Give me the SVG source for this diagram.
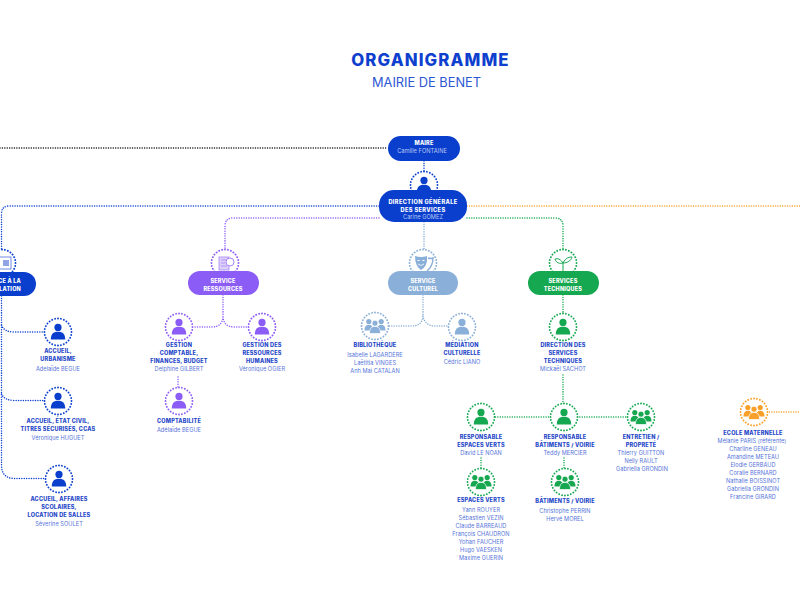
<svg xmlns="http://www.w3.org/2000/svg" width="800" height="600" viewBox="0 0 800 600">
<style>
text{font-family:"Inter","Liberation Sans",sans-serif;text-anchor:middle}
.t{font-size:5.5px;font-weight:800;fill:#1f47c8;letter-spacing:.2px}
.n{font-size:5.6px;font-weight:400;fill:#5473da;letter-spacing:.05px}
.w{font-size:5.5px;font-weight:800;fill:#fff;letter-spacing:.2px}
.wd{font-size:5.6px;font-weight:800;fill:#fff;letter-spacing:.4px}
.wn{font-size:5.7px;font-weight:400;fill:#b9c8f2}
.c{fill:none;stroke-width:1.5;stroke-dasharray:.01 2.4;stroke-linecap:round}
.ring{fill:#fff;stroke-width:1.9;stroke-dasharray:.01 3;stroke-linecap:round}
.blue{stroke:#0a3fce;color:#0a3fce}.pur{stroke:#8b5cf6;color:#8b5cf6}.lb{stroke:#8aafd8;color:#8aafd8}.gr{stroke:#16a850;color:#16a850}.or{stroke:#f9a02a;color:#f9a02a}.bk{stroke:#111}
.ic{stroke:none;fill:currentColor}
</style>
<defs>
<g id="person"><circle cx="0" cy="-4.600" r="3.600"/><path d="M-7.200 7.500C-7.200 2-4.800-.3 0-.3S7.200 2 7.200 7.500Z"/></g>
<g id="group"><circle cx="-6.200" cy="-4.500" r="2.600"/><circle cx="6.200" cy="-4.500" r="2.600"/><path d="M-10.500 4.500C-10.500 0-8.500-1.300-6.200-1.300S-2 0-2 4.500Z"/><path d="M10.500 4.500C10.500 0 8.500-1.300 6.200-1.300S2 0 2 4.500Z"/><circle cx="0" cy="-2.800" r="3" stroke="#fff" stroke-width=".7"/><path d="M-5.500 7.500C-5.500 2-3 .4 0 .4S5.500 2 5.500 7.500Z" stroke="#fff" stroke-width=".7"/></g>
</defs>
<g id="title"><text x="430.500" y="65.700" style="font-size:16.800px;font-weight:800;fill:#0f3fce;letter-spacing:1.100px">ORGANIGRAMME</text><text x="426.500" y="86.700" style="font-size:12.800px;font-weight:400;fill:#2d57d2">MAIRIE DE BENET</text></g>
<g id="connectors">
<path class="c bk" d="M0 148H388"/>
<path class="c blue" d="M424 161V172"/>
<path class="c blue" d="M379 206H9Q1.500 206 1.500 214V250"/>
<path class="c or" d="M467 206H800"/>
<path class="c pur" d="M379 218H233Q225 218 225 226V250"/>
<path class="c gr" d="M467 218H555Q563 218 563 226V250"/>
<path class="c lb" d="M424 222V250"/>
<path class="c blue" d="M1.500 296V465Q1.500 478 14 478.500H44"/>
<path class="c blue" d="M1.500 325Q4 332 14 332H44M1.500 394Q4 400 14 400.500H44"/>
<path class="c pur" d="M223 295V317Q222 327 212 327H193M223 317Q224 327 234 327H248"/>
<path class="c lb" d="M423 295V316Q422 326 412 326H389M423 316Q425 326 435 326H449"/>
<path class="c gr" d="M563 295V314"/>
<path class="c gr" d="M563 375V404M481 417H627"/>
<path class="c gr" d="M481 458V468M564 458V468"/>
<path class="c pur" d="M178 377V388"/>
<path class="c or" d="M767 412H800"/>
</g>
<g id="maire"><rect x="388" y="136" width="72" height="25" rx="12.500" fill="#0a3fce"/><text class="w" x="424" y="145">MAIRE</text><text class="wn" x="422" y="153">Camille FONTAINE</text></g>
<g id="dgs"><circle class="ring blue" cx="424" cy="185" r="13.500"/><use href="#person" x="424" y="185" class="ic blue"/><rect x="379" y="190" width="88" height="32" rx="15" fill="#0a3fce"/><text class="wd" x="423" y="204">DIRECTION GÉNÉRALE</text><text class="wd" x="423" y="212">DES SERVICES</text><text class="wn" x="423" y="219">Carine GOMEZ</text></g>
<g id="population"><circle class="ring blue" cx="2" cy="263" r="13.500"/><rect x="-3" y="257" width="14" height="12" fill="#fff" stroke="#4a6fdc" stroke-width=".8"/><rect x="3" y="260" width="6" height="6" fill="#8fa5e6"/><rect x="-40" y="272" width="76" height="24" rx="12" fill="#0a3fce"/><text class="w" x="21" y="283" style="text-anchor:end">SERVICE À LA</text><text class="w" x="21" y="291" style="text-anchor:end">POPULATION</text></g>
<g id="accueil-urbanisme"><circle class="ring blue" cx="58" cy="332" r="13.500"/><use href="#person" x="58" y="332" class="ic blue"/><text class="t" x="58" y="353">ACCUEIL,</text><text class="t" x="58" y="361">URBANISME</text><text class="n" x="58" y="371">Adelaïde BEGUE</text></g>
<g id="accueil-etat-civil"><circle class="ring blue" cx="58" cy="401" r="13.500"/><use href="#person" x="58" y="401" class="ic blue"/><text class="t" x="58" y="423">ACCUEIL, ÉTAT CIVIL,</text><text class="t" x="58" y="431">TITRES SÉCURISÉS, CCAS</text><text class="n" x="58" y="440">Véronique HUGUET</text></g>
<g id="accueil-scolaire"><circle class="ring blue" cx="59" cy="479" r="13.500"/><use href="#person" x="59" y="479" class="ic blue"/><text class="t" x="59" y="501">ACCUEIL, AFFAIRES</text><text class="t" x="59" y="509">SCOLAIRES,</text><text class="t" x="59" y="517">LOCATION DE SALLES</text><text class="n" x="59" y="526">Séverine SOULET</text></g>
<g id="service-ressources"><circle class="ring pur" cx="225" cy="263" r="13.500"/><rect x="219" y="257" width="10" height="13" fill="#ddd0fb" stroke="#a988f5" stroke-width=".8"/><circle cx="230" cy="262" r="4" fill="#fff" stroke="#a988f5" stroke-width="1"/><path d="M221 260h5M221 263h4M221 266h6" stroke="#a988f5" stroke-width=".8"/><rect x="188" y="271" width="71" height="24" rx="12" fill="#8b5cf6"/><text class="w" x="223" y="283">SERVICE</text><text class="w" x="223" y="291">RESSOURCES</text></g>
<g id="gestion-comptable"><circle class="ring pur" cx="179" cy="327" r="13.500"/><use href="#person" x="179" y="327" class="ic pur"/><text class="t" x="179" y="347">GESTION</text><text class="t" x="179" y="355">COMPTABLE,</text><text class="t" x="179" y="363">FINANCES, BUDGET</text><text class="n" x="179" y="371">Delphine GILBERT</text></g>
<g id="gestion-rh"><circle class="ring pur" cx="262" cy="327" r="13.500"/><use href="#person" x="262" y="327" class="ic pur"/><text class="t" x="262" y="347">GESTION DES</text><text class="t" x="262" y="355">RESSOURCES</text><text class="t" x="262" y="363">HUMAINES</text><text class="n" x="262" y="371">Véronique OGIER</text></g>
<g id="comptabilite"><circle class="ring pur" cx="179" cy="401" r="13.500"/><use href="#person" x="179" y="401" class="ic pur"/><text class="t" x="179" y="423">COMPTABILITÉ</text><text class="n" x="179" y="432">Adélaïde BEGUE</text></g>
<g id="service-culturel"><circle class="ring lb" cx="423" cy="263" r="13.500"/><path d="M415 256Q421 258 427 256Q428 266 421 270Q415 266 415 256Z" fill="#8aafd8"/><path d="M417.500 260.500h2M422.500 260.500h2" stroke="#fff" stroke-width="1"/><path d="M418 264Q421 267 424 264" fill="none" stroke="#fff" stroke-width=".8"/><path d="M428 258Q431 259 433 258Q433 266 427 271" fill="none" stroke="#8aafd8" stroke-width="1.400"/><rect x="388" y="271" width="70" height="24" rx="12" fill="#8aafd8"/><text class="w" x="423" y="283">SERVICE</text><text class="w" x="423" y="291">CULTUREL</text></g>
<g id="bibliotheque"><circle class="ring lb" cx="375" cy="326" r="13.500"/><use href="#group" x="375" y="326" class="ic lb"/><text class="t" x="375" y="347">BIBLIOTHÈQUE</text><text class="n" x="375" y="357">Isabelle LAGARDÈRE</text><text class="n" x="375" y="365">Laëtitia VINGES</text><text class="n" x="375" y="373">Anh Mai CATALAN</text></g>
<g id="mediation"><circle class="ring lb" cx="462" cy="327" r="13.500"/><use href="#person" x="462" y="327" class="ic lb"/><text class="t" x="462" y="347">MÉDIATION</text><text class="t" x="462" y="355">CULTURELLE</text><text class="n" x="462" y="364">Cédric LIANO</text></g>
<g id="service-techniques"><circle class="ring gr" cx="563" cy="263" r="13.500"/><path d="M563 272V263M563 263C559 257 556 259 555 259C556 263 560 264 563 263ZM563 263C566 257 570 257 572 257C571 261 567 263 563 263Z" fill="none" stroke="#16a850" stroke-width="1"/><rect x="528" y="271" width="71" height="24" rx="12" fill="#16a850"/><text class="w" x="563" y="283">SERVICES</text><text class="w" x="563" y="291">TECHNIQUES</text></g>
<g id="direction-techniques"><circle class="ring gr" cx="563" cy="327" r="13.500"/><use href="#person" x="563" y="327" class="ic gr"/><text class="t" x="563" y="347">DIRECTION DES</text><text class="t" x="563" y="355">SERVICES</text><text class="t" x="563" y="363">TECHNIQUES</text><text class="n" x="563" y="371">Mickaël SACHOT</text></g>
<g id="resp-espaces-verts"><circle class="ring gr" cx="481" cy="417" r="13.500"/><use href="#person" x="481" y="417" class="ic gr"/><text class="t" x="481" y="439">RESPONSABLE</text><text class="t" x="481" y="446.500">ESPACES VERTS</text><text class="n" x="481" y="454.500">David LE NOAN</text></g>
<g id="resp-batiments"><circle class="ring gr" cx="564" cy="417" r="13.500"/><use href="#person" x="564" y="417" class="ic gr"/><text class="t" x="565" y="439">RESPONSABLE</text><text class="t" x="565" y="446.500">BÂTIMENTS / VOIRIE</text><text class="n" x="565" y="454.500">Teddy MERCIER</text></g>
<g id="entretien"><circle class="ring gr" cx="641" cy="417" r="13.500"/><use href="#group" x="641" y="417" class="ic gr"/><text class="t" x="641" y="439">ENTRETIEN /</text><text class="t" x="641" y="446.500">PROPRETÉ</text><text class="n" x="641" y="454.500">Thierry GUITTON</text><text class="n" x="641" y="462.500">Nelly RAULT</text><text class="n" x="642" y="470.500">Gabriella GRONDIN</text></g>
<g id="espaces-verts"><circle class="ring gr" cx="481" cy="482" r="13.500"/><use href="#group" x="481" y="482" class="ic gr"/><text class="t" x="481" y="502">ESPACES VERTS</text><text class="n" x="481" y="512">Yann ROUYER</text><text class="n" x="481" y="520">Sébastien VEZIN</text><text class="n" x="481" y="528">Claude BARREAUD</text><text class="n" x="481" y="536">François CHAUDRON</text><text class="n" x="481" y="544">Yohan FAUCHER</text><text class="n" x="481" y="552">Hugo VAESKEN</text><text class="n" x="481" y="560">Maxime GUERIN</text></g>
<g id="batiments-voirie"><circle class="ring gr" cx="565" cy="482" r="13.500"/><use href="#group" x="565" y="482" class="ic gr"/><text class="t" x="565" y="503">BÂTIMENTS / VOIRIE</text><text class="n" x="565" y="513">Christophe PERRIN</text><text class="n" x="565" y="521">Hervé MOREL</text></g>
<g id="ecole-maternelle"><circle class="ring or" cx="754" cy="412" r="13.500"/><use href="#group" x="754" y="412" class="ic or"/><text class="t" x="753" y="434.500">ECOLE MATERNELLE</text><text class="n" x="752" y="443">Mélanie PARIS  (référente)</text><text class="n" x="753" y="451">Charline GENEAU</text><text class="n" x="753" y="459">Amandine METEAU</text><text class="n" x="753" y="467">Elodie GERBAUD</text><text class="n" x="753" y="475">Coralie BERNARD</text><text class="n" x="753" y="483">Nathalie BOISSINOT</text><text class="n" x="753" y="490.500">Gabriella GRONDIN</text><text class="n" x="753" y="498.500">Francine GIRARD</text></g>
</svg>
